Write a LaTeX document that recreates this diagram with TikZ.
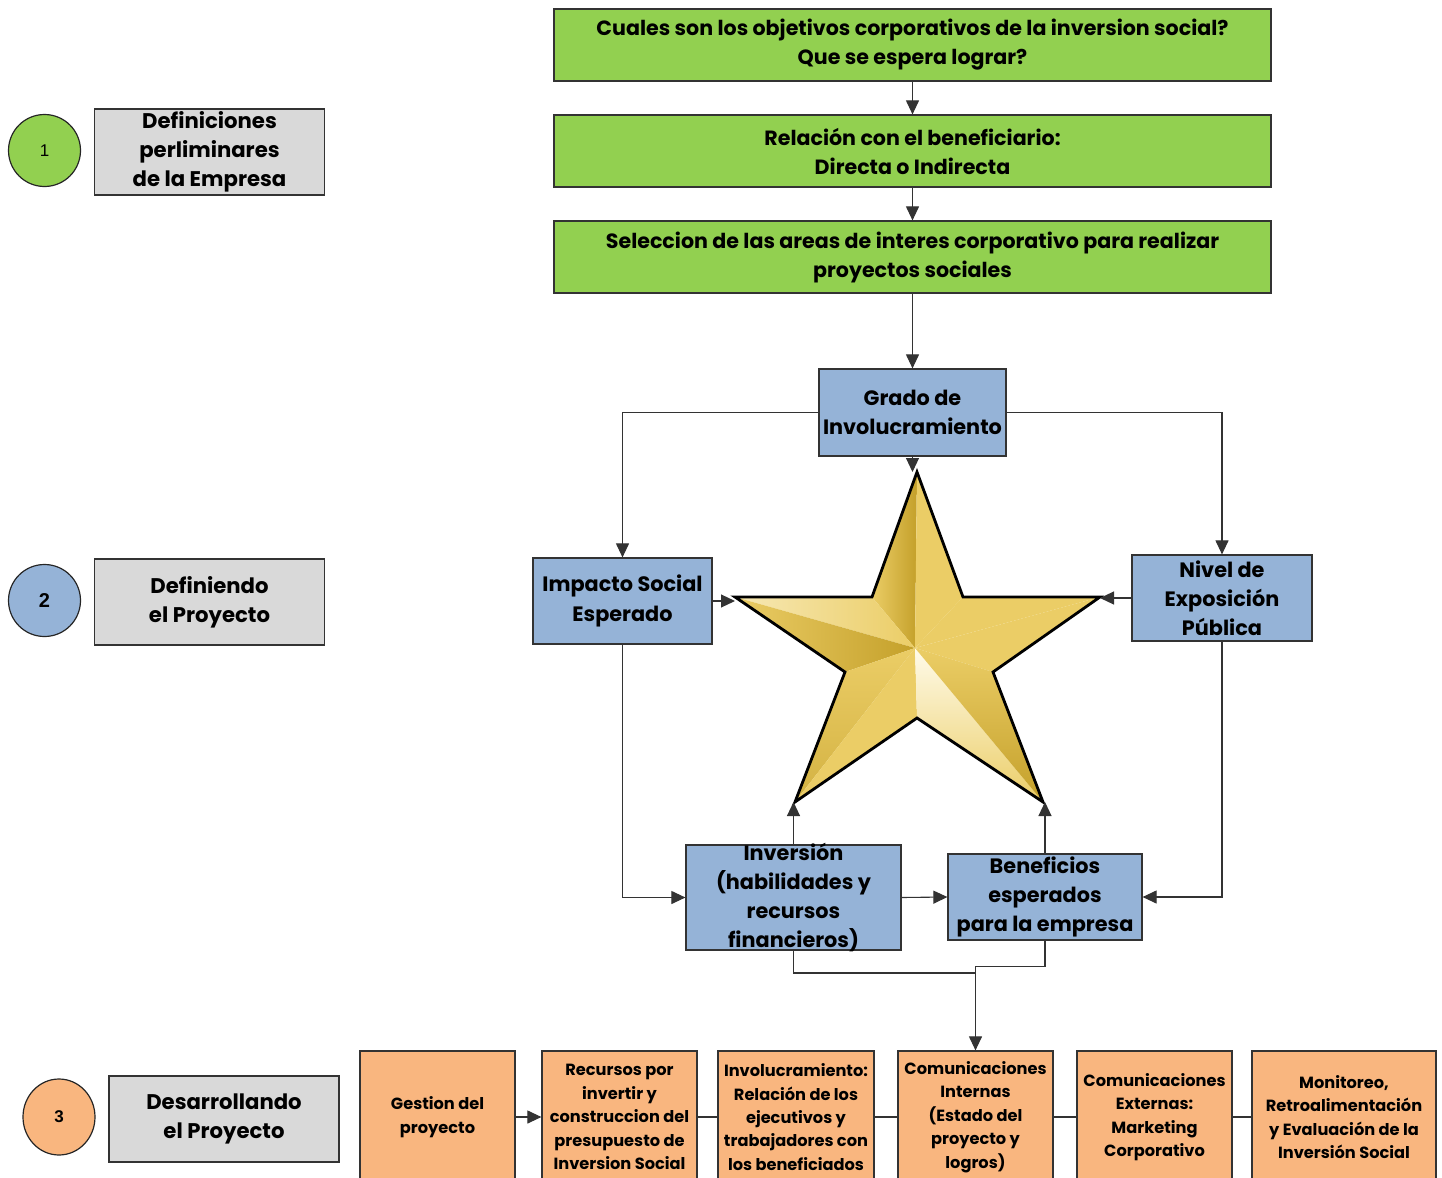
\documentclass[tikz,border=0pt]{standalone}
\usepackage{fontspec}
\setmainfont{Poppins}
\newfontfamily\numfont{Liberation Sans}
\usetikzlibrary{arrows.meta,shapes.geometric}
\tikzset{%
  tipF/.tip={Triangle[length=7pt,width=6.5pt]},
}
\definecolor{verde}{HTML}{92D050}
\definecolor{azul}{HTML}{95B3D7}
\definecolor{naranja}{HTML}{F9B67F}
\definecolor{gris}{HTML}{D9D9D9}
\definecolor{oro}{HTML}{EBCD66}
\definecolor{oroOsc}{HTML}{C4A02A}
\definecolor{oroClaro}{HTML}{FFFBEA}

\begin{document}
\begin{tikzpicture}[x=0.5pt,y=-0.5pt,
  caja/.style={draw=black!80, line width=0.6pt, align=center, inner sep=0pt},
  cverde/.style={caja, fill=verde, minimum width=358.5pt, minimum height=36pt,
    font=\bfseries\fontsize{10.3}{14.5}\selectfont},
  cazul/.style={caja, fill=azul, font=\bfseries\fontsize{10.4}{14.6}\selectfont},
  cgris/.style={caja, fill=gris, minimum width=115pt, minimum height=43pt,
    font=\bfseries\fontsize{10.6}{14.6}\selectfont},
  cnar/.style={caja, fill=naranja, minimum width=77.5pt, minimum height=66pt,
    font=\bfseries\fontsize{8.1}{11.7}\selectfont},
  circulo/.style={draw=black!85, line width=0.6pt, circle, minimum size=36pt, inner sep=0pt},
  linea/.style={draw=black!80, line width=0.55pt},
]
\useasboundingbox (0,0) rectangle (1442,1178);
\clip (0,0) rectangle (1442,1178);

% etapas a la izquierda
\node[circulo, fill=verde, font=\numfont\fontsize{8.5}{10}\selectfont] (c1) at (44.5,150.5) {1};
\node[cgris] (etapa1) at (209.5,152) {Definiciones\\perliminares\\de la Empresa};
\node[circulo, fill=azul, font=\numfont\bfseries\fontsize{10}{12}\selectfont] (c2) at (44.5,600.5) {2};
\node[cgris] (etapa2) at (209.5,602) {Definiendo\\el Proyecto};
\node[circulo, ellipse, minimum width=36pt, minimum height=38pt, fill=naranja,
  font=\numfont\bfseries\fontsize{8.5}{10}\selectfont] (c3) at (59,1117) {3};
\node[cgris] (etapa3) at (224,1119) {Desarrollando\\el Proyecto};

% definiciones de la empresa
\node[cverde] (objetivos) at (912.5,45) {Cuales son los objetivos corporativos de la inversion social?\\Que se espera lograr?};
\node[cverde] (relacion) at (912.5,151) {Relación con el beneficiario:\\Directa o Indirecta};
\node[cverde] (areas) at (912.5,257) {Seleccion de las areas de interes corporativo para realizar\\proyectos sociales};

% definiendo el proyecto
\node[cazul, minimum width=93.5pt, minimum height=43.5pt] (grado) at (912.5,412.5) {Grado de\\Involucramiento};
\node[cazul, minimum width=89.5pt, minimum height=43pt] (impacto) at (622.5,601) {Impacto Social\\Esperado};
\node[cazul, minimum width=90pt, minimum height=43pt] (nivel) at (1222,598) {Nivel de\\Exposición\\Pública};
\node[cazul] (inversion) at (793.5,897.5) {\parbox[c][52.5pt][c]{107.5pt}{\centering Inversión\\(habilidades y\\recursos\\financieros)}};
\node[cazul, minimum width=97pt, minimum height=43pt] (beneficios) at (1045,897) {Beneficios\\esperados\\para la empresa};

% estrella
\coordinate (st-c) at (915,648);
\coordinate (st-top) at (917,472);
\coordinate (st-left) at (735,597);
\coordinate (st-right) at (1100,597);
\coordinate (st-bl) at (795,802);
\coordinate (st-br) at (1043,802);
\coordinate (in-ul) at (872,597);
\coordinate (in-ur) at (963,597);
\coordinate (in-l) at (845,672);
\coordinate (in-r) at (993,672);
\coordinate (in-b) at (917,718);
\shade[left color=oro, middle color=oroClaro, right color=oroOsc] (st-c) -- (st-top) -- (in-ul) -- cycle;
\fill[oro] (st-c) -- (st-top) -- (in-ur) -- cycle;
\shade[left color=oroClaro!60!oro, right color=oro] (st-c) -- (st-left) -- (in-ul) -- cycle;
\shade[left color=oro, middle color=oroClaro, right color=oroOsc] (st-c) -- (st-left) -- (in-l) -- cycle;
\shade[left color=oro, middle color=oroClaro, right color=oro] (st-c) -- (st-right) -- (in-ur) -- cycle;
\fill[oro] (st-c) -- (st-right) -- (in-r) -- cycle;
\shade[top color=oro, bottom color=oroOsc!60!oro] (st-c) -- (st-bl) -- (in-l) -- cycle;
\shade[left color=oro, middle color=oroClaro, right color=oro, shading angle=30] (st-c) -- (st-bl) -- (in-b) -- cycle;
\shade[top color=oroClaro, bottom color=oro] (st-c) -- (st-br) -- (in-b) -- cycle;
\shade[top color=oro, bottom color=oroOsc] (st-c) -- (st-br) -- (in-r) -- cycle;
\draw[line width=1.4pt, line join=miter] (st-top) -- (in-ur) -- (st-right) -- (in-r) -- (st-br)
  -- (in-b) -- (st-bl) -- (in-l) -- (st-left) -- (in-ul) -- cycle;

% desarrollando el proyecto
\node[cnar] (gestion) at (437.5,1117) {Gestion del\\proyecto};
\node[cnar] (recursos) at (619.5,1117) {Recursos por\\invertir y\\construccion del\\presupuesto de\\Inversion Social};
\node[cnar, minimum width=78pt] (involucra) at (796,1117) {Involucramiento:\\Relación de los\\ejecutivos y\\trabajadores con\\los beneficiados};
\node[cnar] (comint) at (975.5,1117) {Comunicaciones\\Internas\\(Estado del\\proyecto y\\logros)};
\node[cnar] (comext) at (1154.5,1117) {Comunicaciones\\Externas:\\Marketing\\Corporativo};
\node[cnar, minimum width=92pt] (monitoreo) at (1344,1117) {Monitoreo,\\Retroalimentación\\y Evaluación de la\\Inversión Social};

% conectores
\draw[linea,-tipF] (objetivos) -- (relacion);
\draw[linea,-tipF] (relacion) -- (areas);
\draw[linea,-tipF] (areas) -- (grado);
\draw[linea,-tipF] (grado.west) -| (impacto.north);
\draw[linea,-tipF] (grado.east) -| (nivel.north);
\draw[linea,-tipF] (grado.south) -- (grado.south |- st-top);
\draw[linea,-tipF] (impacto.east) -- (impacto.east -| st-left);
\draw[linea,-tipF] (nivel.west) -- (nivel.west -| st-right);
\draw[linea,-tipF] (impacto.south) |- (inversion.west);
\draw[linea,-tipF] (nivel.south) |- (beneficios.east);
\draw[linea,-tipF] (inversion.east) -- (beneficios.west);
\draw[linea,-tipF] (inversion.north) -- (inversion.north |- st-bl);
\draw[linea,-tipF] (beneficios.north) -- (beneficios.north |- st-br);
\coordinate (union) at (975.5,973);
\draw[linea] (inversion.south) |- (union);
\draw[linea,-tipF] (beneficios.south) -- ++(0,26) -| (comint.north);
\draw[linea,-tipF] (gestion) -- (recursos);
\draw[linea] (recursos) -- (involucra);
\draw[linea] (involucra) -- (comint);
\draw[linea] (comint) -- (comext);
\draw[linea] (comext) -- (monitoreo);
\end{tikzpicture}
\end{document}
